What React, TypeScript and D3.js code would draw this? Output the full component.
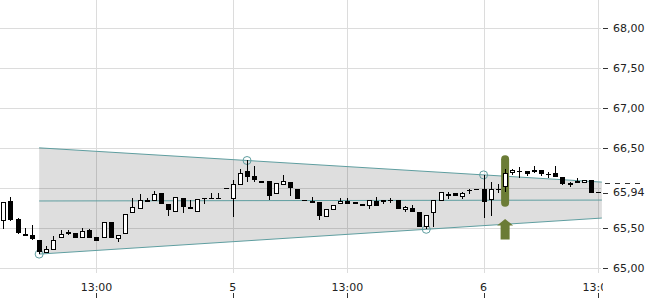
import React from "react";
import * as d3 from "d3";

const OPEN = [65.58,65.83,65.61,65.42,65.41,65.34,65.19,65.22,65.37,65.45,
65.43,65.37,65.47,65.38,65.37,65.575,65.355,65.42,65.68,65.73,
65.84,65.83,65.93,65.80,65.70,65.87,65.755,65.70,65.875,65.875,
65.875,66.00,65.855,66.03,66.21,66.14,66.08,66.08,65.92,66.03,
66.07,65.98,65.84,65.83,65.82,65.63,65.72,65.795,65.835,65.82,
65.79,65.77,65.83,65.82,65.85,65.845,65.72,65.75,65.70,65.51,
65.68,65.83,65.92,65.93,65.88,65.965,65.985,65.98,65.84,65.985,
66.005,66.18,66.205,66.21,66.22,66.22,66.175,66.19,66.13,66.055,
66.08,66.055,66.09,65.945];

const CLOSE = [65.82,65.60,65.43,65.39,65.355,65.20,65.23,65.35,65.42,65.42,
65.375,65.46,65.37,65.33,65.575,65.37,65.41,65.67,65.755,65.84,
65.82,65.92,65.79,65.72,65.88,65.76,65.73,65.855,65.86,65.855,
65.87,66.00,66.04,66.19,66.13,66.10,66.055,65.89,66.06,66.08,
66.00,65.855,65.835,65.805,65.645,65.73,65.78,65.835,65.795,65.79,
65.77,65.84,65.775,65.845,65.845,65.73,65.755,65.70,65.505,65.66,
65.84,65.95,65.90,65.89,65.93,65.96,65.985,65.825,65.98,65.98,
66.19,66.22,66.20,66.17,66.20,66.17,66.17,66.13,66.04,66.03,
66.055,66.09,65.93,65.94];

const HIGH = [65.82,65.88,65.62,65.50,65.53,65.34,65.275,65.40,65.47,65.47,
65.43,65.50,65.49,65.38,65.575,65.575,65.41,65.67,65.87,65.92,
65.875,65.96,65.93,65.80,65.88,65.87,65.85,65.855,65.875,65.94,
65.93,66.00,66.10,66.23,66.34,66.27,66.08,66.08,66.06,66.16,
66.07,65.98,65.85,65.88,65.82,65.73,65.78,65.87,65.87,65.82,
65.79,65.84,65.88,65.845,65.875,65.845,65.77,65.78,65.70,65.66,
65.84,65.95,65.95,65.93,65.95,65.99,65.985,66.16,66.075,66.04,
66.23,66.24,66.255,66.21,66.27,66.22,66.20,66.27,66.13,66.07,
66.12,66.09,66.09,65.945];

const LOW = [65.48,65.58,65.42,65.39,65.35,65.17,65.19,65.22,65.37,65.41,
65.375,65.37,65.37,65.33,65.37,65.37,65.325,65.42,65.68,65.73,
65.82,65.83,65.79,65.64,65.70,65.69,65.73,65.70,65.79,65.855,
65.87,66.00,65.63,66.03,66.075,66.07,66.055,65.84,65.92,66.03,
65.90,65.855,65.83,65.805,65.59,65.63,65.72,65.795,65.795,65.79,
65.77,65.74,65.775,65.79,65.81,65.73,65.70,65.70,65.505,65.48,
65.51,65.83,65.855,65.89,65.855,65.92,65.985,65.625,65.645,65.93,
65.95,66.16,66.12,66.145,66.18,66.14,66.12,66.13,66.03,66.005,
66.055,66.055,65.93,65.94];

const X_TICK_INDEX = [13, 32, 48, 67, 83];
const X_TICK_LABELS = ["13:00", "5", "13:00", "6", "13:00"];
const Y_GRID = [65, 65.5, 66, 66.5, 67, 67.5, 68];
const Y_LABELS = [65, 65.5, 66.5, 67, 67.5, 68];
const TOP_PIVOTS = [34, 67];
const BOTTOM_PIVOTS = [5, 59];
const CHANNEL_END = 83.5;
const SIGNAL_INDEX = 70;

const fmt = (v: number) => d3.format(".2f")(v).replace(".", ",");

export default function App() {
  const n = OPEN.length;
  const x = d3.scaleLinear().domain([0, n - 1]).range([3.3, 598.3]);
  const y = d3.scaleLinear().domain([65, 68]).range([267.7, 27.7]);
  const plotRight = 601;
  const plotBottom = 273;
  const teal = "#5f9ea0";
  const olive = "#6b7c36";

  const [t0, t1] = TOP_PIVOTS;
  const [b0, b1] = BOTTOM_PIVOTS;
  const topAt = (i: number) => HIGH[t0] + ((i - t0) * (HIGH[t1] - HIGH[t0])) / (t1 - t0);
  const botAt = (i: number) => LOW[b0] + ((i - b0) * (LOW[b1] - LOW[b0])) / (b1 - b0);
  const cs = b0;
  const ce = CHANNEL_END;
  const poly = [
    [x(cs), y(topAt(cs))],
    [x(ce), y(topAt(ce))],
    [x(ce), y(botAt(ce))],
    [x(cs), y(botAt(cs))],
  ]
    .map((p) => p.join(","))
    .join(" ");
  const midAt = (i: number) => (topAt(i) + botAt(i)) / 2;

  const last = CLOSE[n - 1];
  const sx = x(SIGNAL_INDEX);

  return (
    <svg
      width={650}
      height={300}
      style={{ position: "absolute", left: 0, top: 0, fontFamily: "DejaVu Sans", fontSize: 11 }}
    >
      <defs>
        <clipPath id="xclip">
          <rect x={0} y={275} width={603} height={25} />
        </clipPath>
      </defs>
      <rect width={650} height={300} fill="#fff" />
      {/* grid */}
      {Y_GRID.map((v) => (
        <line key={"gy" + v} x1={0} x2={plotRight} y1={Math.round(y(v)) + 0.5} y2={Math.round(y(v)) + 0.5} stroke="#dcdcdc" />
      ))}
      {X_TICK_INDEX.map((i) => (
        <line key={"gx" + i} x1={Math.round(x(i)) + 0.5} x2={Math.round(x(i)) + 0.5} y1={0} y2={plotBottom} stroke="#dcdcdc" />
      ))}
      {/* channel */}
      <polygon points={poly} fill="#000" fillOpacity={0.13} />
      <line x1={x(cs)} x2={x(ce)} y1={y(topAt(cs))} y2={y(topAt(ce))} stroke={teal} strokeWidth={1} />
      <line x1={x(cs)} x2={x(ce)} y1={y(botAt(cs))} y2={y(botAt(ce))} stroke={teal} strokeWidth={1} />
      <line x1={x(cs)} x2={x(ce)} y1={y(midAt(cs))} y2={y(midAt(ce))} stroke={teal} strokeWidth={1} />
      {TOP_PIVOTS.map((i) => (
        <circle key={"tp" + i} cx={x(i)} cy={y(HIGH[i])} r={4} fill="none" stroke={teal} />
      ))}
      {BOTTOM_PIVOTS.map((i) => (
        <circle key={"bp" + i} cx={x(i)} cy={y(LOW[i])} r={4} fill="none" stroke={teal} />
      ))}
      {/* signal highlight */}
      <rect
        x={sx - 4}
        y={y(HIGH[SIGNAL_INDEX]) - 14}
        width={8}
        height={y(LOW[SIGNAL_INDEX]) - y(HIGH[SIGNAL_INDEX]) + 29}
        rx={4}
        fill={olive}
      />
      {/* candles */}
      <g shapeRendering="crispEdges">
        {OPEN.map((o, i) => {
          const c = CLOSE[i];
          const cx = Math.round(x(i));
          const up = c > o;
          const yt = Math.round(y(Math.max(o, c)));
          const yb = Math.round(y(Math.min(o, c)));
          const h = Math.max(1, yb - yt);
          return (
            <g key={i}>
              <line x1={cx + 0.5} x2={cx + 0.5} y1={Math.round(y(HIGH[i]))} y2={Math.round(y(LOW[i]))} stroke="#000" />
              {up ? (
                <rect x={cx - 1.5} y={yt + 0.5} width={4} height={Math.max(1, h - 1)} fill="#fff" stroke="#000" />
              ) : (
                <rect x={cx - 2} y={yt} width={5} height={h} fill="#000" />
              )}
            </g>
          );
        })}
      </g>
      {/* arrow */}
      <path
        d={`M${sx},${219} L${sx + 8},${225.5} L${sx + 4.5},${225.5} L${sx + 4.5},${239.5} L${sx - 4.5},${239.5} L${sx - 4.5},${225.5} L${sx - 8},${225.5} Z`}
        fill={olive}
      />
      {/* y axis */}
      {Y_LABELS.map((v) => (
        <g key={"yl" + v}>
          <line x1={603} x2={608} y1={Math.round(y(v)) + 0.5} y2={Math.round(y(v)) + 0.5} stroke="#333" />
          <text x={613} y={y(v)} dy="0.35em" fill="#222">
            {fmt(v)}
          </text>
        </g>
      ))}
      <g>
        <line x1={605} x2={642} y1={y(last) - 9} y2={y(last) - 9} stroke="#333" strokeDasharray="5,5" />
        <line x1={603} x2={608} y1={Math.round(y(last)) + 0.5} y2={Math.round(y(last)) + 0.5} stroke="#333" />
        <text x={613} y={y(last)} dy="0.35em" fill="#222">
          {fmt(last)}
        </text>
      </g>
      {/* x axis */}
      <g clipPath="url(#xclip)">
        {X_TICK_INDEX.map((i, k) => (
          <g key={"xl" + i}>
            <text x={x(i)} y={287} dy="0.35em" textAnchor="middle" fill="#222">
              {X_TICK_LABELS[k]}
            </text>
            <line x1={Math.round(x(i)) + 0.5} x2={Math.round(x(i)) + 0.5} y1={293} y2={298} stroke="#333" />
          </g>
        ))}
      </g>
    </svg>
  );
}
